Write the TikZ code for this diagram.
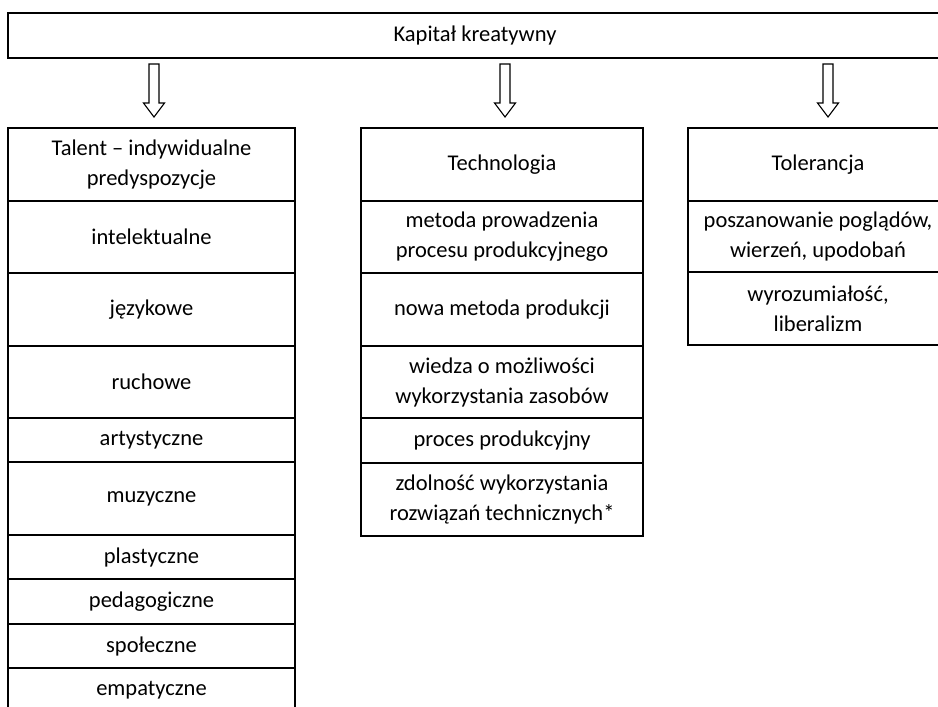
\documentclass[tikz,border=0pt]{standalone}
\usepackage{fontspec}
\setmainfont{Carlito}
\begin{document}
\begin{tikzpicture}[x=1pt,y=-1pt,
  frame/.style={draw, line width=1.8pt},
  cell/.style={frame, anchor=north, inner sep=0pt, outer sep=0pt, align=center,
    font=\fontsize{22.5}{30}\selectfont},
  lcol/.style={cell, minimum width=287},
  mcol/.style={cell, minimum width=282},
  rcol/.style={cell, minimum width=260},
  blockarrow/.style={draw, line width=1.1pt, line join=miter},
  pics/downarrow/.style={code={
    \draw[blockarrow] (-5,0) -- (-5,39) -- (-10.5,39) -- (0,53)
      -- (10.5,39) -- (5,39) -- (5,0) -- cycle;}}]
\useasboundingbox (0,0) rectangle (938,707);
\clip (0,0) rectangle (938,707);

% heading
\node[cell, anchor=center, minimum width=934, minimum height=45] (kap)
  at (475,35.5) {Kapitał kreatywny};

% left column: talent
\node[lcol, minimum height=73] (t0) at (151.5,128) {Talent – indywidualne\\predyspozycje};
\node[lcol, minimum height=72] (t1) at (t0.south) {intelektualne};
\node[lcol, minimum height=73] (t2) at (t1.south) {językowe};
\node[lcol, minimum height=72] (t3) at (t2.south) {ruchowe};
\node[lcol, minimum height=44] (t4) at (t3.south) {artystyczne};
\node[lcol, minimum height=73] (t5) at (t4.south) {muzyczne};
\node[lcol, minimum height=44] (t6) at (t5.south) {plastyczne};
\node[lcol, minimum height=45] (t7) at (t6.south) {pedagogiczne};
\node[lcol, minimum height=44] (t8) at (t7.south) {społeczne};
\node[lcol, minimum height=44] (t9) at (t8.south) {empatyczne};

% middle column: technology
\node[mcol, minimum height=73] (m0) at (502,128) {Technologia};
\node[mcol, minimum height=72] (m1) at (m0.south) {metoda prowadzenia\\procesu produkcyjnego};
\node[mcol, minimum height=73] (m2) at (m1.south) {nowa metoda produkcji};
\node[mcol, minimum height=72] (m3) at (m2.south) {wiedza o możliwości\\wykorzystania zasobów};
\node[mcol, minimum height=45] (m4) at (m3.south) {proces produkcyjny};
\node[mcol, minimum height=73] (m5) at (m4.south) {zdolność wykorzystania\\rozwiązań technicznych*};

% right column: tolerance
\node[rcol, minimum height=73] (r0) at (818,128) {Tolerancja};
\node[rcol, minimum height=71] (r1) at (r0.south) {poszanowanie poglądów,\\wierzeń, upodobań};
\node[rcol, minimum height=73] (r2) at (r1.south) {wyrozumiałość,\\liberalizm};

% hollow arrows from the heading to each column
\coordinate (a1) at (154,64);
\coordinate (a2) at (505,64);
\coordinate (a3) at (828,64);
\pic at (a1) {downarrow};
\pic at (a2) {downarrow};
\pic at (a3) {downarrow};
\end{tikzpicture}
\end{document}
